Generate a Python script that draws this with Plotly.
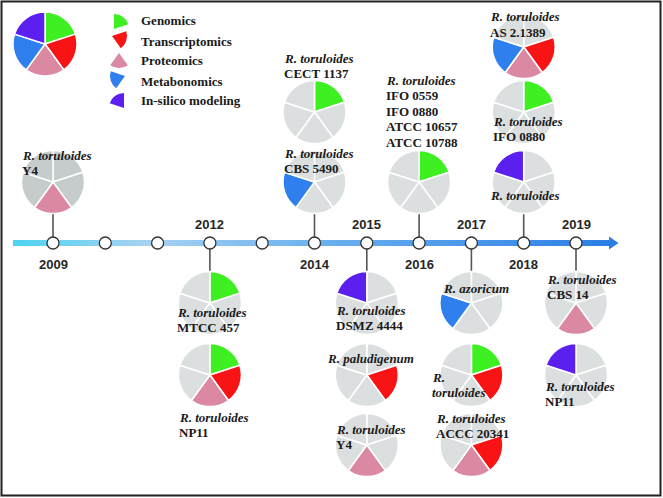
import plotly.graph_objects as go

W, H = 663, 498

# ---------------- data ----------------
omics_names = ["Genomics", "Transcriptomics", "Proteomics", "Metabonomics", "In-silico modeling"]
omics_colors = ["#3ef022", "#f81414", "#db88a2", "#2f80ee", "#5b1ff0"]
omics_share = [1, 1, 1, 1, 1]

timeline_years = [2009, 2010, 2011, 2012, 2013, 2014, 2015, 2016, 2017, 2018, 2019]
labeled_years = [2009, 2012, 2014, 2015, 2016, 2017, 2018, 2019]
labeled_side = ["below", "above", "below", "above", "below", "above", "below", "above"]

study_year = [2009, 2012, 2012, 2014, 2014, 2015, 2015, 2015, 2016,
              2017, 2017, 2017, 2018, 2018, 2018, 2019, 2019]
study_species = [["R. toruloides"], ["R. toruloides"], ["R. toruloides"], ["R. toruloides"],
                 ["R. toruloides"], ["R. toruloides"], ["R. paludigenum"], ["R. toruloides"],
                 ["R. toruloides"], ["R. azoricum"], ["R.", "toruloides"], ["R. toruloides"],
                 ["R. toruloides"], ["R. toruloides"], ["R. toruloides"], ["R. toruloides"],
                 ["R. toruloides"]]
study_strain = [["Y4"], ["MTCC 457"], ["NP11"], ["CBS 5490"], ["CECT 1137"], ["DSMZ 4444"], [],
                ["Y4"], ["IFO 0559", "IFO 0880", "ATCC 10657", "ATCC 10788"], [], [],
                ["ACCC 20341"], [], ["IFO 0880"], ["AS 2.1389"], ["CBS 14"], ["NP11"]]
# flags: Genomics, Transcriptomics, Proteomics, Metabonomics, In-silico
study_omics = [[0, 0, 1, 0, 0], [1, 0, 0, 0, 0], [1, 1, 1, 0, 0], [0, 0, 0, 1, 0],
               [1, 0, 0, 0, 0], [0, 0, 0, 0, 1], [0, 1, 0, 0, 0], [0, 0, 1, 0, 0],
               [1, 0, 0, 0, 0], [0, 0, 0, 1, 0], [1, 1, 0, 0, 0], [0, 1, 1, 0, 0],
               [0, 0, 0, 0, 1], [1, 0, 0, 0, 0], [0, 1, 1, 1, 0], [0, 0, 1, 0, 0],
               [0, 0, 0, 0, 1]]

# ---------------- layout helpers (styling / placement) ----------------
# stack level: +n above the timeline, -n below; text offsets (dx, dy of first line)
study_level = [1, -1, -2, 1, 2, -1, -2, -3, 1, -1, -2, -3, 1, 2, 3, -1, -2]
study_text_dx = [-33, -35, -33, -33, -33, -33, -42, -33, -35, -30, -41, -37, -36, -33, -36, -31, -33]
study_text_dy = [-27, 9, 42, -29, -54, 7, -17, -16, -102, -15, 2, -27, 13, 9, -30, -24, 11]

X0_PX, YEAR_PX = 53.0, 52.3
LINE_Y = 243
R = 31.5
level_y = {1: 182, 2: 112, 3: 47, -1: 303, -2: 375, -3: 445}
GRAY = "#dcdfdf"
GRAY_DARK = "#c6cccc"
LINE_SP = 15.5
SERIF = "Liberation Serif, Times New Roman, serif"
SANS = "Liberation Sans, Arial, sans-serif"


def year_to_px(y):
    return X0_PX + (y - 2009) * YEAR_PX


def px_to_year(px):
    return 2009 + (px - X0_PX) / YEAR_PX


def pie_domain(cx, cy, r):
    return dict(x=[(cx - r) / W, (cx + r) / W], y=[1 - (cy + r) / H, 1 - (cy - r) / H])


fig = go.Figure()
annotations = []

# timeline bar with arrow (gradient)
bx = [13, 609, 609, 618.5, 609, 609, 13, 13]
by = [240, 240, 236.5, 243, 249.5, 246, 246, 240]
fig.add_trace(go.Scatter(
    x=[px_to_year(v) for v in bx], y=by, mode="lines", fill="toself",
    line=dict(width=0, color="rgba(0,0,0,0)"),
    fillgradient=dict(type="horizontal",
                      colorscale=[[0, "#4cd3f0"], [0.22, "#a8d2f2"], [0.5, "#6cb2ee"], [1, "#2a7de6"]]),
    hoverinfo="skip", showlegend=False))

# stems
for yr, lvl in zip(study_year, study_level):
    if abs(lvl) != 1:
        continue
    cy = level_y[lvl]
    end = cy + R if lvl > 0 else cy - R
    fig.add_trace(go.Scatter(x=[yr, yr], y=[LINE_Y, end], mode="lines",
                             line=dict(color="#555555", width=1.6),
                             hoverinfo="skip", showlegend=False))

# nodes
fig.add_trace(go.Scatter(x=timeline_years, y=[LINE_Y] * len(timeline_years), mode="markers",
                         marker=dict(size=12, color="white", line=dict(color="#333333", width=1.3)),
                         hoverinfo="skip", showlegend=False))

# year labels
for yr, side in zip(labeled_years, labeled_side):
    annotations.append(dict(x=yr, y=224 if side == "above" else 264, xref="x", yref="y",
                            text="<b>%d</b>" % yr, showarrow=False,
                            font=dict(family=SANS, size=13, color="#262626"),
                            xanchor="center", yanchor="middle"))

# study pies + labels
for i, yr in enumerate(study_year):
    cx = year_to_px(yr)
    cy = level_y[study_level[i]]
    base = GRAY_DARK if yr == 2009 else GRAY
    cols = [omics_colors[k] if study_omics[i][k] else base for k in range(5)]
    fig.add_trace(go.Pie(values=omics_share, labels=omics_names, domain=pie_domain(cx, cy, R),
                         marker=dict(colors=cols, line=dict(color="white", width=1.5)),
                         sort=False, direction="clockwise", rotation=0, textinfo="none",
                         hoverinfo="skip", showlegend=False))
    lines = ["<b><i>%s</i></b>" % s for s in study_species[i]] + ["<b>%s</b>" % s for s in study_strain[i]]
    for j, txt in enumerate(lines):
        annotations.append(dict(x=(cx + study_text_dx[i]) / W, y=1 - (cy + study_text_dy[i] + j * LINE_SP) / H,
                                xref="paper", yref="paper", text=txt, showarrow=False,
                                font=dict(family=SERIF, size=13, color="#1a1a1a"),
                                xanchor="left", yanchor="middle"))

# legend pie
fig.add_trace(go.Pie(values=omics_share, labels=omics_names, domain=pie_domain(45, 44, 32),
                     marker=dict(colors=omics_colors, line=dict(color="white", width=1.5)),
                     sort=False, direction="clockwise", rotation=0, textinfo="none",
                     hoverinfo="skip", showlegend=False))

# legend wedge icons + texts
icon_centers = [(114, 29), (112, 36), (119, 53), (125, 76), (124, 108)]
legend_text_y = [21, 41, 61, 81, 100]
for k, name in enumerate(omics_names):
    icx, icy = icon_centers[k]
    cols = [omics_colors[k] if m == k else "rgba(0,0,0,0)" for m in range(5)]
    fig.add_trace(go.Pie(values=omics_share, labels=omics_names, domain=pie_domain(icx, icy, 15),
                         marker=dict(colors=cols, line=dict(width=0)),
                         sort=False, direction="clockwise", rotation=0, textinfo="none",
                         hoverinfo="skip", showlegend=False))
    annotations.append(dict(x=139 / W, y=1 - legend_text_y[k] / H, xref="paper", yref="paper",
                            text="<b>%s</b>" % name, showarrow=False,
                            font=dict(family=SERIF, size=13, color="#1a1a1a"),
                            xanchor="left", yanchor="middle"))

fig.update_layout(
    width=W, height=H, margin=dict(l=0, r=0, t=0, b=0),
    paper_bgcolor="white", plot_bgcolor="white",
    xaxis=dict(range=[px_to_year(0), px_to_year(W)], visible=False, fixedrange=True),
    yaxis=dict(range=[H, 0], visible=False, fixedrange=True),
    annotations=annotations,
    shapes=[dict(type="rect", xref="paper", yref="paper",
                 x0=1.5 / W, x1=660.5 / W, y0=1 - 495.5 / H, y1=1 - 1.5 / H,
                 line=dict(color="#222222", width=2), fillcolor="rgba(0,0,0,0)")],
    showlegend=False,
)

fig.write_html("out.html", config=dict(displayModeBar=False),
               post_script="document.body.style.margin='0px';document.body.style.overflow='hidden';")
